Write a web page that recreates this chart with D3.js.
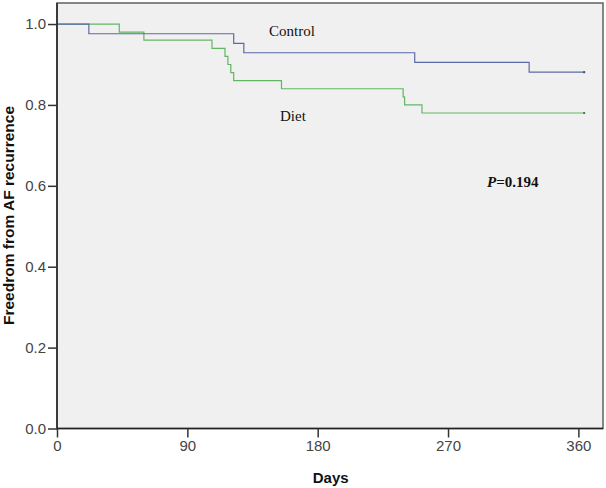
<!DOCTYPE html>
<html>
<head>
<meta charset="utf-8">
<script src="https://cdn.jsdelivr.net/npm/d3@7/dist/d3.min.js"></script>
<style>
  html, body { margin: 0; padding: 0; background: #ffffff; }
  svg { display: block; }
</style>
</head>
<body>
<svg id="chart" width="606" height="488"></svg>
<script>
// ---- Data ----
const xTicks = [0, 90, 180, 270, 360];
const yTicks = [0.0, 0.2, 0.4, 0.6, 0.8, 1.0];
const controlDays = [0, 22, 122, 129, 247, 326, 364];
const controlSurv = [1.0, 0.976, 0.952, 0.929, 0.905, 0.881, 0.881];
const dietDays = [0, 43, 60, 107, 116, 118, 120, 122, 155, 239, 240, 252, 364];
const dietSurv = [1.0, 0.98, 0.96, 0.94, 0.92, 0.90, 0.88, 0.86, 0.84, 0.82, 0.80, 0.78, 0.78];
const seriesNames = ["Control", "Diet"];
const pLabel = "0.194";

(function () {
// ---- Layout ----
const svg = d3.select("#chart");
const pLeft = 57, pRight = 603, pTop = 3, pBottom = 428.5;

const x = d3.scaleLinear().domain([0, 377]).range([pLeft, pRight]);
const y = d3.scaleLinear().domain([0, 1.052]).range([pBottom, pTop]);

// plot background
svg.append("rect")
  .attr("x", pLeft).attr("y", pTop)
  .attr("width", pRight - pLeft).attr("height", pBottom - pTop)
  .attr("fill", "#f0f0f0")
  .attr("stroke", "#606060").attr("stroke-width", 1.5);

// curves
const line = d3.line()
  .x(d => x(d[0])).y(d => y(d[1]))
  .curve(d3.curveStepAfter);

const controlData = controlDays.map((d, i) => [d, controlSurv[i]]);
const dietData = dietDays.map((d, i) => [d, dietSurv[i]]);

const colors = { control: "#5a6aa6", diet: "#62b662" };

svg.append("path").datum(dietData)
  .attr("d", line).attr("fill", "none")
  .attr("stroke", colors.diet).attr("stroke-width", 1.2);
svg.append("path").datum(controlData)
  .attr("d", line).attr("fill", "none")
  .attr("stroke", colors.control).attr("stroke-width", 1.2);

// censor marks at the end
[[controlData, "#444a70"], [dietData, "#4a7a4a"]].forEach(([data, c]) => {
  const last = data[data.length - 1];
  svg.append("rect")
    .attr("x", x(last[0]) - 1).attr("y", y(last[1]) - 1)
    .attr("width", 2).attr("height", 2).attr("fill", c);
});

// axes
const yAxis = d3.axisLeft(y).tickValues(yTicks).tickFormat(d3.format(".1f")).tickSize(9).tickPadding(2);
const xAxis = d3.axisBottom(x).tickValues(xTicks).tickFormat(d3.format("d")).tickSize(9).tickPadding(3);

const gy = svg.append("g").attr("transform", `translate(${pLeft},0)`).call(yAxis);
const gx = svg.append("g").attr("transform", `translate(0,${pBottom})`).call(xAxis);

[gx, gy].forEach(g => {
  g.select(".domain").attr("stroke", "#222").attr("stroke-width", 1.5);
  g.selectAll(".tick line").attr("stroke", "#333").attr("stroke-width", 1.5);
  g.selectAll(".tick text")
    .attr("fill", "#444")
    .style("font-family", "'Liberation Sans', Arial, sans-serif")
    .style("font-size", "15px");
});
gy.select(".domain").attr("d", `M0,${pTop}V${pBottom}`);
gx.select(".domain").attr("d", `M${pLeft},0H${pRight}`);

// axis titles
svg.append("text")
  .attr("x", x(180) + 13).attr("y", 483)
  .attr("text-anchor", "middle")
  .style("font-family", "'Liberation Sans', Arial, sans-serif")
  .style("font-size", "15px").style("font-weight", "bold")
  .attr("fill", "#111")
  .text("Days");

svg.append("text")
  .attr("transform", `translate(14,215.5) rotate(-90)`)
  .attr("text-anchor", "middle")
  .style("font-family", "'Liberation Sans', Arial, sans-serif")
  .style("font-size", "15.5px").style("font-weight", "bold")
  .attr("fill", "#111")
  .text("Freedrom from AF recurrence");

// series labels
const serif = "'Liberation Serif', 'Times New Roman', serif";
svg.append("text")
  .attr("x", 269).attr("y", 36)
  .style("font-family", serif).style("font-size", "15px")
  .attr("fill", "#111")
  .text(seriesNames[0]);
svg.append("text")
  .attr("x", 280).attr("y", 121)
  .style("font-family", serif).style("font-size", "15px")
  .attr("fill", "#111")
  .text(seriesNames[1]);

const pt = svg.append("text")
  .attr("x", 487).attr("y", 187)
  .style("font-family", serif).style("font-size", "15px").style("font-weight", "bold")
  .attr("fill", "#111");
pt.append("tspan").style("font-style", "italic").text("P");
pt.append("tspan").text("=" + pLabel);
})();
</script>
</body>
</html>
